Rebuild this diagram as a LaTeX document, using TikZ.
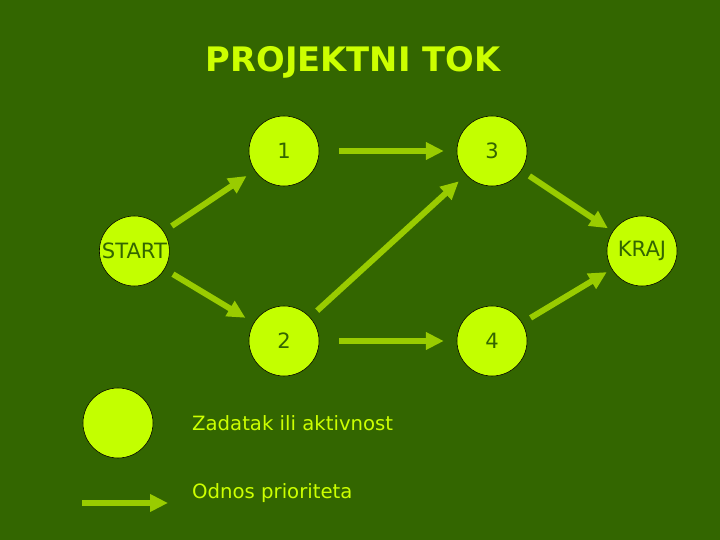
\documentclass[tikz,border=0pt]{standalone}
\usepackage{fontspec}
\setmainfont{DejaVu Sans}
\usepackage{xcolor}
\definecolor{bggreen}{RGB}{51,102,0}
\definecolor{limefill}{RGB}{195,255,0}
\definecolor{limetext}{RGB}{204,255,0}
\definecolor{arrowgreen}{RGB}{153,204,0}
\usetikzlibrary{arrows.meta}

\begin{document}
\begin{tikzpicture}[x=1.0cm,y=1.0cm,
	task/.style={circle,draw=black,line width=0.4pt,fill=limefill,minimum size=1.75cm,inner sep=0pt,outer sep=0pt,text=bggreen,font=\fontsize{15}{18}\selectfont},
	prec/.style={-{Triangle[length=0.45cm,width=0.42cm]},color=arrowgreen,line width=4.2pt,shorten <=0.25cm,shorten >=0.25cm},
	legend/.style={anchor=west,text=limetext,font=\fontsize{14}{17}\selectfont}]
	\fill[bggreen] (0,0) rectangle (18,13.5);
	\node[text=limetext,font=\fontsize{24}{28}\selectfont\bfseries] (title) at (8.825,11.95) {PROJEKTNI TOK};
	% cvorovi
	\node[task] (start) at (3.36,7.225) {START};
	\node[task] (t1) at (7.1,9.725) {1};
	\node[task] (t3) at (12.3,9.725) {3};
	\node[task] (kraj) at (16.05,7.225) {KRAJ};
	\node[task] (t2) at (7.1,4.975) {2};
	\node[task] (t4) at (12.3,4.975) {4};
	% veze
	\draw[prec] (start) -- (t1);
	\draw[prec] (start) -- (t2);
	\draw[prec,shorten <=0.5cm,shorten >=0.33cm] (t1) -- (t3);
	\draw[prec,shorten <=0.5cm,shorten >=0.33cm] (t2) -- (t4);
	\draw[prec] (t2) -- (t3);
	\draw[prec,shorten >=0.15cm] (t3) -- (kraj);
	\draw[prec,shorten >=0.15cm] (t4) -- (kraj);
	% legenda
	\node[task] (legcircle) at (2.95,2.925) {};
	\node[legend] (legtask) at (4.68,2.925) {Zadatak ili aktivnost};
	\coordinate (legA) at (2.05,0.925);
	\coordinate (legB) at (4.2,0.925);
	\draw[prec,shorten <=0cm,shorten >=0cm] (legA) -- (legB);
	\node[legend] (legprec) at (4.68,1.175) {Odnos prioriteta};
\end{tikzpicture}
\end{document}
